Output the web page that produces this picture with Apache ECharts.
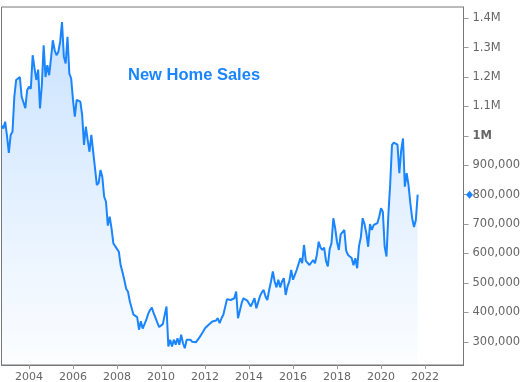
<!DOCTYPE html>
<html><head><meta charset="utf-8">
<script src="https://cdn.jsdelivr.net/npm/echarts@6/dist/echarts.min.js"></script>
<style>html,body{margin:0;padding:0;background:#fff}#c{width:525px;height:382px}</style>
</head><body><div id="c"></div>
<script>
// Category range (months) of the x axis
const firstMonth = [2002, 10];
const lastMonth = [2023, 10];
// New home sales, thousands (SAAR), monthly
const sales2002 = [1035, 1025, 1048]; // Oct-Dec
const sales2003 = [1000, 942, 1003, 1014, 1133, 1190, 1184, 1200, 1133, 1133, 1094, 1155];
const sales2004 = [1167, 1160, 1274, 1230, 1190, 1225, 1093, 1172, 1308, 1200, 1240, 1206];
const sales2005 = [1263, 1325, 1291, 1274, 1285, 1320, 1387, 1270, 1246, 1337, 1212, 1195];
const sales2006 = [1122, 1065, 1122, 1120, 1116, 1070, 969, 1031, 986, 946, 1003, 997];
const sales2007 = [890, 833, 840, 884, 860, 793, 776, 695, 725, 686, 635, 625];
const sales2008 = [623, 606, 560, 536, 510, 480, 470, 437, 431, 392, 388, 384];
const sales2009 = [341, 370, 345, 341, 375, 395, 408, 416, 397, 392, 365, 350];
const sales2010 = [346, 360, 390, 420, 284, 307, 284, 307, 290, 312, 290, 324];
const sales2011 = [295, 278, 307, 312, 307, 300, 295, 298, 302, 315, 325, 335];
const sales2012 = [346, 343, 358, 352, 369, 363, 372, 380, 363, 380, 392, 397];
const sales2013 = [445, 445, 442, 440, 448, 471, 380, 405, 432, 448, 445, 440];
const sales2014 = [440, 420, 415, 448, 414, 420, 455, 468, 476, 454, 442, 476];
const sales2015 = [505, 539, 505, 485, 511, 485, 505, 516, 459, 488, 505, 544];
const sales2016 = [511, 527, 544, 544, 584, 567, 629, 575, 575, 561, 565, 578];
const sales2017 = [567, 595, 640, 620, 612, 620, 575, 556, 615, 635, 720, 686];
const sales2018 = [640, 612, 665, 668, 680, 610, 595, 590, 585, 560, 584, 550];
const sales2019 = [625, 655, 720, 700, 669, 623, 700, 680, 697, 703, 703, 725];
const sales2020 = [754, 742, 623, 590, 730, 835, 969, 977, 975, 970, 873, 950];
const sales2021 = [991, 827, 873, 833, 771, 720, 690, 714, 800]; // Jan-Sep
// Axis tick labels
const yTickValues = [300000, 400000, 500000, 600000, 700000, 800000, 900000, 1000000, 1100000, 1200000, 1300000, 1400000];
const xLabelYears = [2004, 2006, 2008, 2010, 2012, 2014, 2016, 2018, 2020, 2022];
const titleText = 'New Home Sales';

const categories = [];
for (let y = firstMonth[0], m = firstMonth[1]; y < lastMonth[0] || (y === lastMonth[0] && m <= lastMonth[1]); ) {
  categories.push(y + '-' + String(m).padStart(2, '0'));
  m++; if (m > 12) { m = 1; y++; }
}
const values = [].concat(sales2002, sales2003, sales2004, sales2005, sales2006, sales2007, sales2008,
  sales2009, sales2010, sales2011, sales2012, sales2013, sales2014, sales2015, sales2016, sales2017,
  sales2018, sales2019, sales2020, sales2021).map(v => v * 1000);
const isYearTick = (i, v) => v.slice(5) === '01' && xLabelYears.indexOf(+v.slice(0, 4)) >= 0;

const blue = '#1a85ff';
const chart = echarts.init(document.getElementById('c'), null, {renderer: 'canvas'});
chart.setOption({
  animation: false,
  backgroundColor: '#fff',
  title: {
    text: titleText, left: 128, top: 67, padding: 0,
    textStyle: {color: blue, fontSize: 16.5, fontWeight: 'bold', fontFamily: 'Liberation Sans'}
  },
  grid: {
    left: 1.5, top: 7, width: 462, height: 358,
    containLabel: false, outerBoundsMode: 'none',
    show: true, borderColor: '#777', borderWidth: 1, backgroundColor: 'transparent'
  },
  xAxis: {
    type: 'category', data: categories, boundaryGap: false,
    axisLine: {show: true, lineStyle: {color: '#777'}},
    axisTick: {show: true, interval: isYearTick, length: 4, lineStyle: {color: '#999'}},
    axisLabel: {interval: isYearTick, formatter: v => v.slice(0, 4), color: '#666',
      fontFamily: 'DejaVu Sans', fontSize: 11, margin: 7},
    splitLine: {show: false}
  },
  yAxis: {
    type: 'value', position: 'right', min: 221000, max: 1438000, splitNumber: 12,
    axisLine: {show: true, lineStyle: {color: '#777'}},
    axisTick: {show: true, length: 5, customValues: yTickValues, lineStyle: {color: '#999'}},
    axisLabel: {
      customValues: yTickValues,
      color: '#666', fontFamily: 'DejaVu Sans', fontSize: 11.5, margin: 9,
      formatter: v => {
        v = Math.round(v);
        if (v === 1000000) return '{b|1M}';
        if (v > 1000000) return (v / 1000000).toFixed(1) + 'M';
        return v.toLocaleString('en-US');
      },
      rich: {b: {fontWeight: 'bold', color: '#666', fontFamily: 'DejaVu Sans', fontSize: 11.5}}
    },
    splitLine: {show: false}
  },
  series: [{
    type: 'line', data: values, showSymbol: false, symbol: 'none',
    lineStyle: {color: blue, width: 2},
    areaStyle: {origin: 'start', color: new echarts.graphic.LinearGradient(0, 0, 0, 1, [
      {offset: 0, color: 'rgba(26,133,255,0.33)'},
      {offset: 1, color: 'rgba(26,133,255,0.02)'}
    ])},
    markPoint: {
      symbol: 'diamond', symbolSize: [7, 8], symbolOffset: [6, 0],
      itemStyle: {color: blue}, label: {show: false},
      data: [{coord: [categories[categories.length - 1], values[values.length - 1]]}]
    }
  }]
});
</script></body></html>
